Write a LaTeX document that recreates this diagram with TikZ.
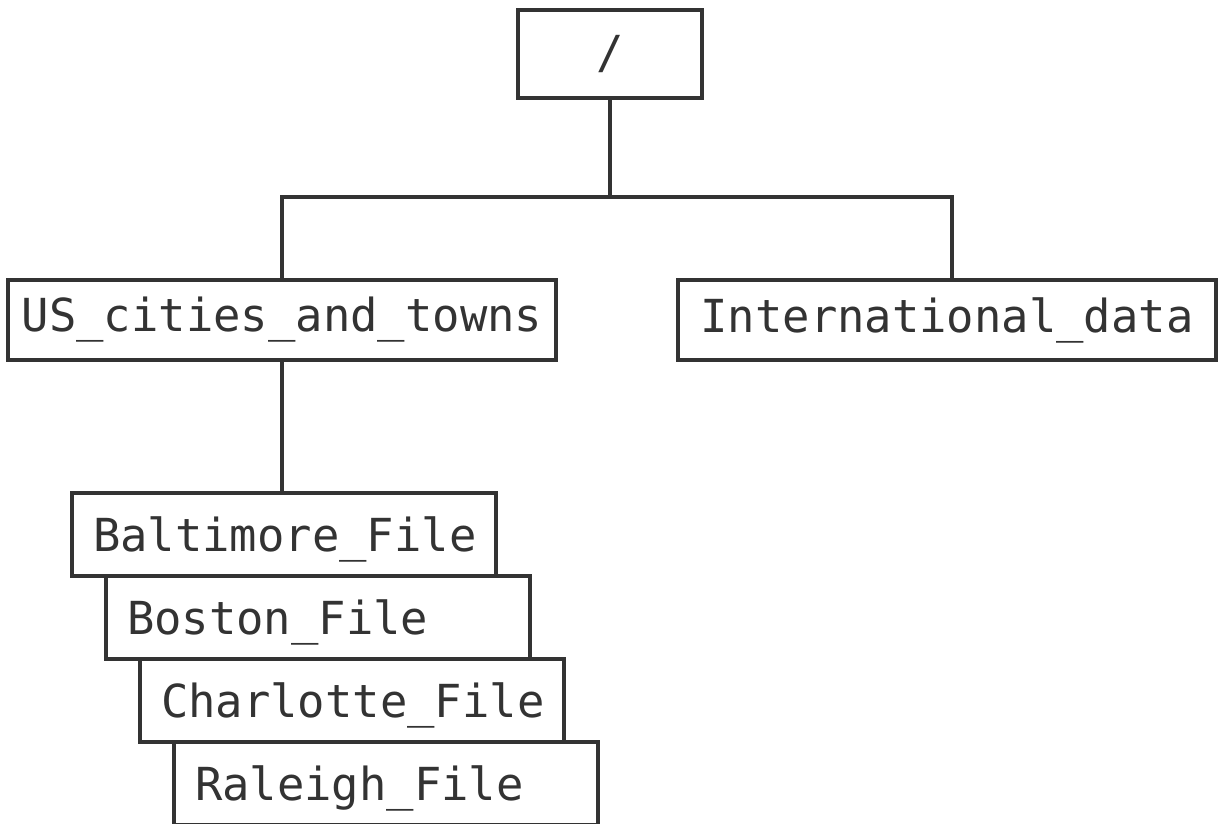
\documentclass[tikz,border=0pt]{standalone}
\usepackage{fontspec}
\setmonofont{DejaVu Sans Mono}
\definecolor{linegray}{HTML}{333333}
\begin{document}
\begin{tikzpicture}[x=1pt,y=-1pt,
    line width=3.5pt,draw=linegray,
    dirbox/.style={draw=linegray,fill=white,text=linegray,inner sep=0pt,
        font=\ttfamily\fontsize{45.5}{50}\selectfont},
    filebox/.style={dirbox,minimum height=83pt,text width=382pt,align=left,
        inner xsep=21pt,text depth=0pt}]
    \useasboundingbox (0,0) rectangle (1225,823);

    % Root
    \node[dirbox,minimum width=184pt,minimum height=88pt] (root) at (610,54) {/};

    % Top level folders
    \node[dirbox,minimum width=548pt,minimum height=80pt] (us) at (282,320) {US\_cities\_and\_towns};
    \node[dirbox,minimum width=538pt,minimum height=80pt] (intl) at (947,320) {International\_data};

    % Branches
    \coordinate (split) at (610,197);
    \draw[linegray] (root.south) -- (split);
    \draw[linegray] (split) -| (us.north);
    \draw[linegray] (split) -| ([xshift=5pt]intl.north);

    % Files
    \draw[linegray] (us.south) -- (282,493);
    \node[filebox] (balt) at (284,534.5) {Baltimore\_File};
    \node[filebox] (bost) at (318,617.5) {Boston\_File};
    \node[filebox] (char) at (352,700.5) {Charlotte\_File};
    \node[filebox] (rale) at (386,783.5) {Raleigh\_File};
\end{tikzpicture}
\end{document}
